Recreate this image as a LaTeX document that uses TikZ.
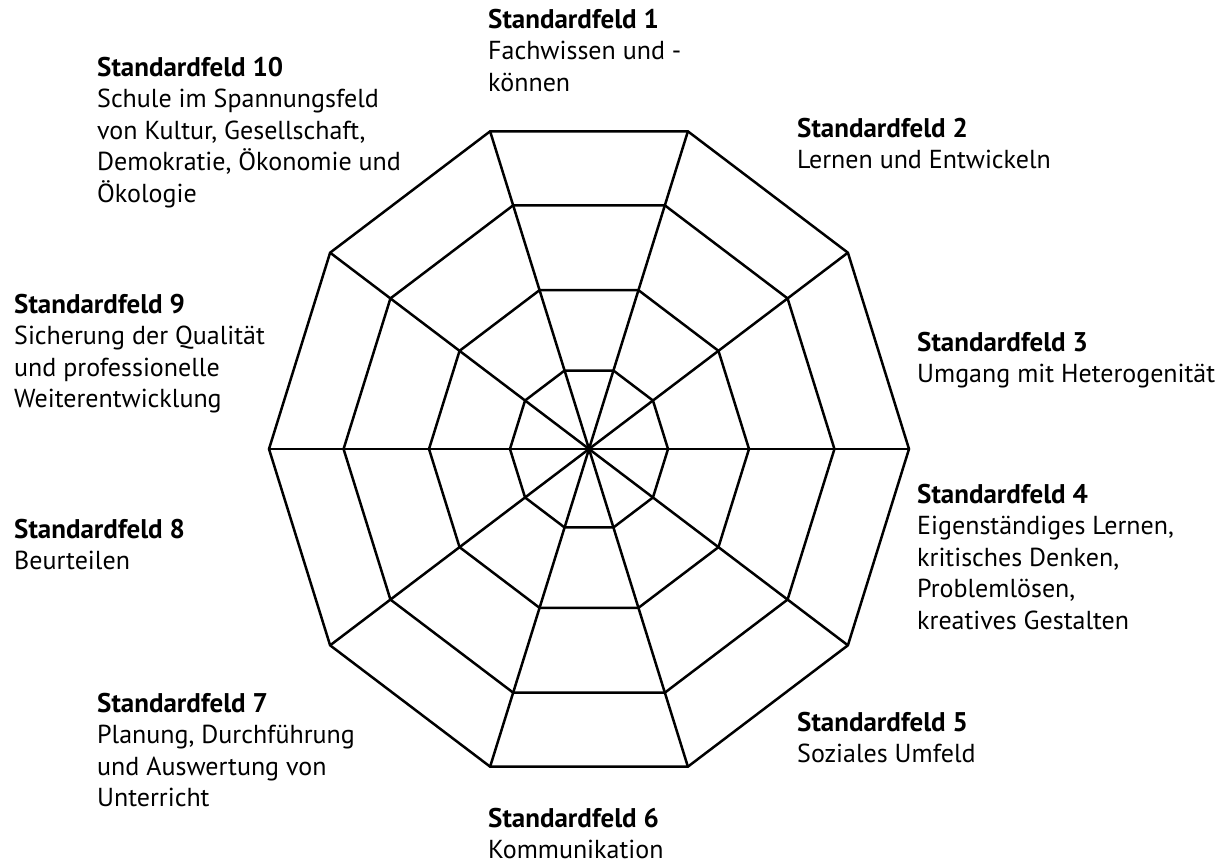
\documentclass[tikz,border=0pt]{standalone}
\usepackage{fontspec}
\setmainfont{PT Sans}
\usetikzlibrary{positioning}
\tikzset{web/.style={draw=black,line width=2.5pt,line join=miter},
  feld/.style={anchor=north west,inner sep=0pt,align=left,font=\fontsize{26}{31.5}\selectfont}}
\newcommand{\feldtitel}[1]{{\fontsize{27}{31.5}\selectfont\bfseries Standardfeld #1}}

\begin{document}
\begin{tikzpicture}[x=1pt,y=-1pt]
\useasboundingbox (0,0) rectangle (1232,861);
% centre and outer corners of the web
\coordinate (m) at (589,449);
\foreach \k in {0,...,9}
  \coordinate (e\k) at ({589+320*cos(36*\k)},{449-334*sin(36*\k)});
% four rings
\foreach \f in {0.247,0.5,0.767,1}
  \draw[web] ({589+320*\f},449)
    \foreach \k in {1,...,9}{ -- ({589+320*\f*cos(36*\k)},{449-334*\f*sin(36*\k)})} -- cycle;
% spokes
\foreach \k in {0,...,9}
  \draw[web] (m) -- (e\k);
% labels
\node[feld] (f1) at (488,9) {\feldtitel{1}\\Fachwissen und -\\können};
\node[feld] (f2) at (797,118) {\feldtitel{2}\\Lernen und Entwickeln};
\node[feld] (f3) at (917,332) {\feldtitel{3}\\Umgang mit Heterogenität};
\node[feld] (f4) at (917,484) {\feldtitel{4}\\Eigenständiges Lernen,\\kritisches Denken,\\Problemlösen,\\kreatives Gestalten};
\node[feld] (f5) at (797,712) {\feldtitel{5}\\Soziales Umfeld};
\node[feld] (f6) at (488,808) {\feldtitel{6}\\Kommunikation};
\node[feld] (f7) at (97,693) {\feldtitel{7}\\Planung, Durchführung\\und Auswertung von\\Unterricht};
\node[feld] (f8) at (14,519) {\feldtitel{8}\\Beurteilen};
\node[feld] (f9) at (14,294) {\feldtitel{9}\\Sicherung der Qualität\\und professionelle\\Weiterentwicklung};
\node[feld] (f10) at (97,57) {\feldtitel{10}\\Schule im Spannungsfeld\\von Kultur, Gesellschaft,\\Demokratie, Ökonomie und\\Ökologie};
\end{tikzpicture}
\end{document}
